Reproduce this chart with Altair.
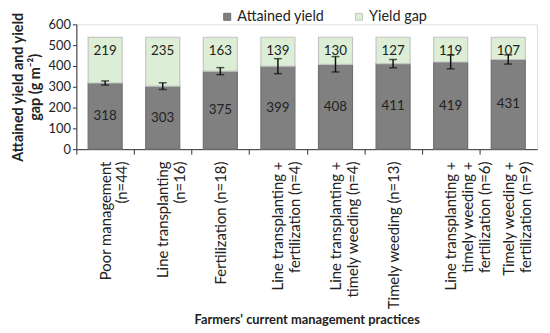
import altair as alt
import pandas as pd

categories = [
    "Poor management|(n=44)",
    "Line transplanting|(n=16)",
    "Fertilization (n=18)",
    "Line transplanting +|fertilization (n=4)",
    "Line transplanting +|timely weeding (n=4)",
    "Timely weeding (n=13)",
    "Line transplanting +|timely weeding +|fertilization (n=6)",
    "Timely weeding +|fertilization (n=9)",
]
attained = [318, 303, 375, 399, 408, 411, 419, 431]
gap = [219, 235, 163, 139, 130, 127, 119, 107]
err = [10, 16, 17, 36, 37, 20, 33, 22]
series = ["Attained yield", "Yield gap"]
y_ticks = [0, 100, 200, 300, 400, 500, 600]

FONT = "Lato"

rows = []
for c, a, g in zip(categories, attained, gap):
    rows.append({"cat": c, "series": series[0], "value": a, "ord": 0})
    rows.append({"cat": c, "series": series[1], "value": g, "ord": 1})
long_df = pd.DataFrame(rows)

wide_df = pd.DataFrame({
    "cat": categories,
    "attained": attained,
    "gap": gap,
    "err": err,
})
wide_df["lo"] = wide_df["attained"] - wide_df["err"]
wide_df["hi"] = wide_df["attained"] + wide_df["err"]
wide_df["mid"] = wide_df["attained"] / 2

W = 465
step = W / len(categories)

x_axis = alt.Axis(
    title="Farmers' current management practices",
    titleFont=FONT,
    titleFontSize=13,
    titleFontWeight="bold",
    titleColor="#222",
    titlePadding=4,
    labelExpr="split(datum.label, '|')",
    labelAngle=-90,
    labelAlign="right",
    labelBaseline="middle",
    labelFont=FONT,
    labelFontSize=15,
    labelColor="#222",
    labelLineHeight=17,
    labelPadding=7,
    tickOffset=-step / 2,
    labelOffset=step / 2,
    tickSize=5,
    tickColor="#333",
    domainColor="#333",
    labelLimit=300,
)
y_axis = alt.Axis(
    title=["Attained yield and yield", "gap (g m⁻²)"],
    titleFont=FONT,
    titleFontSize=14.5,
    titleFontWeight="bold",
    titleColor="#222",
    titlePadding=6,
    titleLineHeight=17,
    values=y_ticks,
    grid=False,
    labelOverlap=False,
    labelFont=FONT,
    labelFontSize=13,
    labelColor="#222",
    tickSize=4,
    tickColor="#333",
    domainColor="#333",
)
x_scale = alt.Scale(paddingInner=0, paddingOuter=0)
y_scale = alt.Scale(domain=[0, 600], nice=False)


def xe():
    return alt.X("cat:N", sort=categories, scale=x_scale, axis=x_axis)


bars = alt.Chart(long_df).mark_bar(width=alt.RelativeBandSize(0.59), strokeWidth=1.2).encode(
    x=xe(),
    y=alt.Y("value:Q", stack="zero", scale=y_scale, axis=y_axis),
    color=alt.Color(
        "series:N",
        scale=alt.Scale(domain=series, range=["#808080", "#dcefd6"]),
        legend=alt.Legend(
            title=None,
            orient="none",
            legendX=145,
            legendY=-15,
            direction="horizontal",
            symbolType="square",
            symbolSize=50,
            symbolStrokeColor="#555",
            symbolStrokeWidth=1,
            labelFont=FONT,
            labelFontSize=14.5,
            labelColor="#222",
            columnPadding=27,
            labelOffset=3,
        ),
    ),
    stroke=alt.Stroke(
        "series:N",
        scale=alt.Scale(domain=series, range=["#6f6f6f", "#c4c4c4"]),
        legend=None,
    ),
    order=alt.Order("ord:Q"),
)

rule = alt.Chart(wide_df).mark_rule(color="#111", strokeWidth=1.5).encode(
    x=xe(), y=alt.Y("lo:Q", scale=y_scale, axis=y_axis), y2="hi:Q"
)
cap_lo = alt.Chart(wide_df).mark_tick(color="#111", thickness=1.5, size=8).encode(
    x=xe(), y=alt.Y("lo:Q", scale=y_scale, axis=y_axis)
)
cap_hi = alt.Chart(wide_df).mark_tick(color="#111", thickness=1.5, size=8).encode(
    x=xe(), y=alt.Y("hi:Q", scale=y_scale, axis=y_axis)
)

lab_att = alt.Chart(wide_df).mark_text(font=FONT, fontSize=13.5, color="#222", baseline="middle").encode(
    x=xe(), y=alt.Y("mid:Q", scale=y_scale, axis=y_axis), text="attained:Q"
)
lab_gap = alt.Chart(wide_df).mark_text(font=FONT, fontSize=13.5, color="#222", baseline="middle").encode(
    x=xe(), y=alt.Y(datum=470, scale=y_scale, axis=y_axis), text="gap:Q"
)

chart = alt.layer(bars, rule, cap_lo, cap_hi, lab_att, lab_gap).properties(
    width=W,
    height=126,
    padding={"left": 2, "top": 0, "right": 5, "bottom": 0},
).configure_view(stroke=None).configure(background="white")

chart.save("out.html", embed_options={"renderer": "svg", "actions": False})
